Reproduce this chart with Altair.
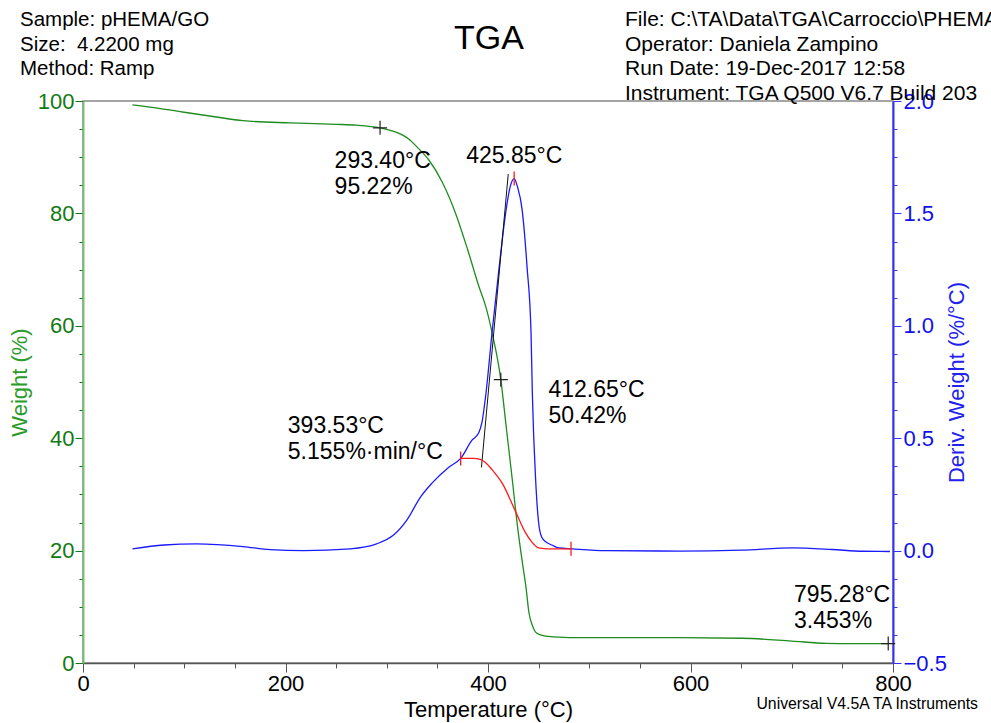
import altair as alt
import pandas as pd

FONT = "Liberation Sans"

# Weight loss curve (temperature in °C, weight in %)
temp_w = [48.8, 75, 100, 130, 158, 205, 250, 270, 293.4, 305, 317, 322, 330, 341.6,
          355, 368, 380, 391, 397.7, 404, 412.65, 418, 424, 429, 434, 437.5, 440.5,
          444, 447, 452, 457, 470, 490, 589, 651, 700, 734, 760, 795.28]
weight = [99.3, 98.7, 98.0, 97.2, 96.5, 96.1, 95.85, 95.7, 95.22, 94.7, 93.8, 93.2,
          91.8, 89.5, 85.5, 80.0, 73.5, 67.0, 63.5, 58.8, 50.42, 42.0, 32.6, 24.5,
          17.8, 13.5, 8.9, 6.6, 5.5, 5.0, 4.8, 4.6, 4.5, 4.5, 4.4, 3.9, 3.5, 3.45, 3.453]

# Derivative weight curve (%/°C)
temp_d = [48.8, 80, 112, 158, 185, 218, 264, 290, 307, 320, 333.6, 344.7, 361, 373,
          384, 391, 394, 398, 404, 411, 418, 422, 425.85, 429, 433.6, 438.6, 442.5,
          443.8, 447, 450, 453, 457, 463, 470, 483, 516, 589, 650, 701, 740, 770, 797]
deriv = [0.008, 0.025, 0.030, 0.018, 0.004, 0.0, 0.008, 0.03, 0.07, 0.137, 0.24, 0.30,
         0.37, 0.41, 0.49, 0.525, 0.57, 0.70, 0.97, 1.26, 1.52, 1.62, 1.655, 1.62, 1.52,
         1.26, 0.97, 0.70, 0.32, 0.124, 0.06, 0.039, 0.025, 0.012, 0.008, 0.0, -0.002,
         0.002, 0.012, 0.005, -0.003, -0.004]

# Integration baseline under the derivative peak
temp_r = [373, 385, 393, 398, 404, 414, 427.6, 437, 443, 450, 460, 482]
deriv_r = [0.41, 0.41, 0.405, 0.39, 0.36, 0.30, 0.17, 0.08, 0.04, 0.012, 0.008, 0.008]

# Onset tangent on the derivative peak
tangent_t = [393.53, 420.0]
tangent_d = [0.37, 1.675]

# Analysis markers
cross_t = [293.40, 412.65, 795.28]
cross_w = [95.22, 50.42, 3.453]
tick_t = [373.0, 425.85, 482.0]
tick_d = [0.41, 1.655, 0.008]

# Result labels (anchor in temperature / weight units)
ann_text = [["293.40°C", "95.22%"], ["425.85°C"], ["412.65°C", "50.42%"],
            ["393.53°C", "5.155%·min/°C"], ["795.28°C", "3.453%"]]
ann_t = [248.5, 378.5, 459.7, 202.3, 702.3]
ann_w = [88.0, 88.95, 47.3, 40.94, 10.93]

header_left = ["Sample: pHEMA/GO", "Size:\u00a0 4.2200 mg", "Method: Ramp"]
header_right = ["File: C:\\TA\\Data\\TGA\\Carroccio\\PHEMA-GO.001",
                "Operator: Daniela Zampino",
                "Run Date: 19-Dec-2017 12:58",
                "Instrument: TGA Q500 V6.7 Build 203"]

GREEN = "#1e8c1e"
BLUE = "#1a1aff"
RED = "#ff1a1a"

x_axis = alt.Axis(
    values=list(range(0, 801, 50)),
    labelExpr="datum.value % 200 === 0 ? datum.label : ''",
    tickSize={"condition": {"test": "datum.value % 200 === 0", "value": 9}, "value": 5},
    title="Temperature (°C)", grid=False, labelFontSize=22, titleFontSize=22,
    labelColor="black", titleColor="black", domainColor="#555555", tickColor="#555555",
    labelFont=FONT, titleFont=FONT, titleFontWeight="normal", labelPadding=1,
    titlePadding=5, labelFlush=False, labelOverlap=False, domainWidth=1.5)
x_enc = alt.X("temp:Q", scale=alt.Scale(domain=[0, 800], nice=False, zero=False), axis=x_axis)

y_left_axis = alt.Axis(
    values=list(range(0, 101, 5)),
    labelExpr="datum.value % 20 === 0 ? datum.label : ''",
    tickSize={"condition": {"test": "datum.value % 20 === 0", "value": 8}, "value": 4},
    title="Weight (%)", grid=False, labelFontSize=22, titleFontSize=22,
    labelColor="#127a12", titleColor="#2a9a2a", domainColor="#78c078", tickColor="#127a12",
    labelFont=FONT, titleFont=FONT, titleFontWeight="normal", labelPadding=1,
    titlePadding=6, labelFlush=False, labelOverlap=False, domainWidth=2)
y_left = alt.Y("weight:Q", scale=alt.Scale(domain=[0, 100], nice=False), axis=y_left_axis)

right_vals = [-0.5 + 0.125 * i for i in range(21)]
y_right_axis = alt.Axis(
    orient="right", values=right_vals,
    labelExpr="datum.value % 0.5 === 0 ? format(datum.value, '.1f') : ''",
    tickSize={"condition": {"test": "datum.value % 0.5 === 0", "value": 8}, "value": 4},
    title="Deriv. Weight (%/°C)", titleAngle=270, titleBaseline="top", grid=False,
    labelFontSize=22, titleFontSize=22, labelColor="#1010ee", titleColor="#2222ee",
    domainColor="#3333ff", tickColor="#3333ff", labelFont=FONT, titleFont=FONT,
    titleFontWeight="normal", labelPadding=2, titlePadding=0, labelFlush=False,
    labelOverlap=False, domainWidth=2)
y_right = alt.Y("deriv:Q", scale=alt.Scale(domain=[-0.5, 2.0], nice=False), axis=y_right_axis)

weight_df = pd.DataFrame({"temp": temp_w, "weight": weight})
deriv_df = pd.DataFrame({"temp": temp_d, "deriv": deriv})
base_df = pd.DataFrame({"temp": temp_r, "deriv": deriv_r})
tan_df = pd.DataFrame({"temp": tangent_t, "deriv": tangent_d})
cross_df = pd.DataFrame({"temp": cross_t, "weight": cross_w})
tick_df = pd.DataFrame({"temp": tick_t, "deriv": tick_d})
ann_df = pd.DataFrame({"temp": ann_t, "weight": ann_w, "label": ann_text})

PLUS = "M-1,0L1,0M0,-1L0,1"
VBAR = "M0,-1L0,1"

weight_line = alt.Chart(weight_df).mark_line(
    color=GREEN, strokeWidth=1.3, interpolate="monotone").encode(x=x_enc, y=y_left)
crosses = alt.Chart(cross_df).mark_point(
    shape=PLUS, size=196, filled=False, color="#222222", strokeWidth=1.2, opacity=1
).encode(x=x_enc, y=y_left)
labels = alt.Chart(ann_df).mark_text(
    align="left", baseline="alphabetic", fontSize=23, font=FONT, color="black", lineHeight=26
).encode(x=x_enc, y=y_left, text="label")

one = alt.Data(values=[{}])
head_left = alt.Chart(one).mark_text(
    text=header_left, align="left", baseline="alphabetic", fontSize=20.5, font=FONT,
    lineHeight=24.5, color="black").encode(x=alt.value(-63), y=alt.value(-75))
head_right = alt.Chart(one).mark_text(
    text=header_right, align="left", baseline="alphabetic", fontSize=21, font=FONT,
    lineHeight=24.5, color="black").encode(x=alt.value(542), y=alt.value(-75))
head_title = alt.Chart(one).mark_text(
    text="TGA", align="center", baseline="alphabetic", fontSize=34, font=FONT,
    color="black").encode(x=alt.value(406), y=alt.value(-52))
footer = alt.Chart(one).mark_text(
    text="Universal V4.5A TA Instruments", align="right", baseline="alphabetic",
    fontSize=15.8, font=FONT, color="black").encode(x=alt.value(895), y=alt.value(608))

left = alt.layer(weight_line, crosses, labels, head_left, head_right, head_title, footer)

deriv_line = alt.Chart(deriv_df).mark_line(
    color=BLUE, strokeWidth=1.3, interpolate="monotone").encode(x=x_enc, y=y_right)
base_line = alt.Chart(base_df).mark_line(
    color=RED, strokeWidth=1.3, interpolate="monotone").encode(x=x_enc, y=y_right)
tan_line = alt.Chart(tan_df).mark_line(
    color="#111111", strokeWidth=1.0).encode(x=x_enc, y=y_right)
red_ticks = alt.Chart(tick_df).mark_point(
    shape=VBAR, size=196, filled=False, color=RED, strokeWidth=1.3, opacity=1
).encode(x=x_enc, y=y_right)

right = alt.layer(deriv_line, tan_line, base_line, red_ticks)

chart = alt.layer(left, right).resolve_scale(y="independent").properties(
    width=810, height=562,
    padding={"left": 83, "top": 101, "right": 98, "bottom": 60},
    autosize=alt.AutoSizeParams(type="none"),
    background="white",
).configure_view(stroke="#888888", strokeWidth=1.5)

chart.save("out.html", embed_options={"renderer": "svg", "actions": False})
